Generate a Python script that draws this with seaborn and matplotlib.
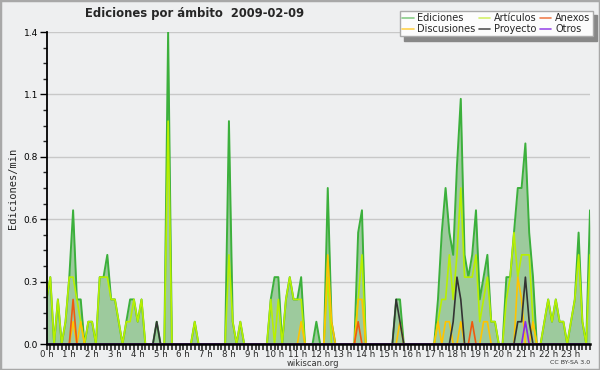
import numpy as np
import pandas as pd
import matplotlib
matplotlib.use('Agg')
import matplotlib.pyplot as plt
import seaborn as sns
from matplotlib.lines import Line2D
from matplotlib.patches import Rectangle
from matplotlib.ticker import MultipleLocator
from matplotlib import font_manager

sns.set_style("ticks")
plt.rcParams['font.family'] = ['DejaVu Sans']

# ediciones por tramo de 10 minutos, una fila por hora (0 h .. 23 h)
ediciones = [
    2, 3, 0, 2, 0, 1,
    3, 6, 2, 2, 0, 1,
    1, 0, 3, 3, 4, 2,
    2, 1, 0, 1, 2, 2,
    1, 2, 0, 0, 0, 1,
    0, 0, 14, 0, 0, 0,
    0, 0, 0, 1, 0, 0,
    0, 0, 0, 0, 0, 0,
    10, 1, 0, 1, 0, 0,
    0, 0, 0, 0, 0, 2,
    3, 3, 0, 2, 3, 2,
    2, 3, 0, 0, 0, 1,
    0, 0, 7, 1, 0, 0,
    0, 0, 0, 0, 5, 6,
    0, 0, 0, 0, 0, 0,
    0, 0, 2, 2, 0, 0,
    0, 0, 0, 0, 0, 0,
    0, 2, 5, 7, 5, 4,
    8, 11, 4, 3, 4, 6,
    2, 3, 4, 1, 1, 0,
    0, 3, 3, 5, 7, 7,
    9, 5, 3, 0, 0, 1,
    2, 1, 2, 1, 1, 0,
    1, 2, 5, 1, 0, 6,
]
articulos = [
    2, 3, 0, 2, 0, 1,
    3, 3, 2, 1, 0, 1,
    1, 0, 3, 3, 3, 2,
    2, 1, 0, 1, 1, 2,
    1, 2, 0, 0, 0, 0,
    0, 0, 10, 0, 0, 0,
    0, 0, 0, 1, 0, 0,
    0, 0, 0, 0, 0, 0,
    4, 1, 0, 1, 0, 0,
    0, 0, 0, 0, 0, 2,
    0, 2, 0, 2, 3, 2,
    2, 2, 0, 0, 0, 0,
    0, 0, 3, 0, 0, 0,
    0, 0, 0, 0, 2, 4,
    0, 0, 0, 0, 0, 0,
    0, 0, 0, 0, 0, 0,
    0, 0, 0, 0, 0, 0,
    0, 1, 2, 2, 4, 2,
    4, 7, 3, 3, 3, 4,
    1, 2, 3, 1, 1, 0,
    0, 2, 3, 5, 3, 4,
    4, 4, 1, 0, 0, 1,
    2, 1, 2, 1, 1, 0,
    1, 2, 4, 1, 0, 4,
]
# series dispersas: tramo -> ediciones
disc_tramos = [7, 9, 67, 74, 75, 82, 83, 93, 103, 105, 106, 109, 115, 116, 124, 125, 128]
disc_valores = [1, 1, 1, 4, 1, 2, 2, 1, 1, 1, 1, 1, 1, 1, 3, 2, 1]
anexos_tramos = [7, 82, 112]
anexos_valores = [2, 1, 1]
proy_tramos = [29, 92, 93, 107, 108, 109, 124, 125, 126, 127]
proy_valores = [1, 2, 1, 1, 3, 2, 1, 1, 3, 1]
otros_tramos = [126]
otros_valores = [1]

hour_labels = [f"{h} h" for h in range(24)]

n = len(ediciones)
horas = np.arange(n) / 6.0


def completa(tramos, valores):
    s = np.zeros(n)
    s[tramos] = valores
    return s


series = {
    'Ediciones': np.array(ediciones, float),
    'Artículos': np.array(articulos, float),
    'Discusiones': completa(disc_tramos, disc_valores),
    'Anexos': completa(anexos_tramos, anexos_valores),
    'Proyecto': completa(proy_tramos, proy_valores),
    'Otros': completa(otros_tramos, otros_valores),
}
colores = {
    'Ediciones': '#3cb03c',
    'Artículos': '#b8f000',
    'Discusiones': '#ffc400',
    'Anexos': '#f05a10',
    'Proyecto': '#333333',
    'Otros': '#8a2be2',
}

# ediciones por minuto
df = pd.DataFrame({k: v / 10.0 for k, v in series.items()})
df['hora'] = horas

bg = '#eeeff0'
fig = plt.figure(figsize=(6, 3.7), dpi=100, facecolor=bg)
ax = fig.add_axes([46.5 / 600, 26 / 370, (590 - 46.5) / 600, (344 - 32) / 370])
ax.set_facecolor(bg)

ax.fill_between(df['hora'], df['Ediciones'], color='#9dca9d', lw=0, zorder=1)
for nombre in ['Ediciones', 'Artículos', 'Discusiones', 'Anexos', 'Proyecto', 'Otros']:
    sns.lineplot(data=df, x='hora', y=nombre, ax=ax, color=colores[nombre],
                 linewidth=1.4 if nombre == 'Ediciones' else 1.2, zorder=2)

ax.set_xlim(0, horas[-1])
ax.set_ylim(0, 1.4)
yt = np.linspace(0, 1.4, 6)
ax.set_yticks(yt)
ax.set_yticklabels([f"{v:.1f}" for v in yt])
ax.yaxis.set_minor_locator(MultipleLocator(0.07))
ax.set_xticks(range(24))
ax.set_xticklabels(hour_labels)
ax.xaxis.set_minor_locator(MultipleLocator(1 / 6))
ax.grid(axis='y', color='#c8c8c8', lw=1)
ax.set_axisbelow(True)

ax.tick_params(axis='y', which='major', labelsize=6.5, colors='black', pad=1, length=5, width=1)
ax.tick_params(axis='y', which='minor', length=3, width=1)
ax.tick_params(axis='x', which='both', length=4, width=1.2, labelsize=6.2, pad=0.5)
for s in ['top', 'right']:
    ax.spines[s].set_visible(False)
ax.spines['left'].set_linewidth(1.3)
ax.spines['bottom'].set_linewidth(1.8)
ax.spines['left'].set_color('black')
ax.spines['bottom'].set_color('black')

ax.set_xlabel('')
ax.set_ylabel('Ediciones/min', family='DejaVu Sans Mono', fontsize=7.5, labelpad=4)

# titulo: version condensada si existe
condensada = any(f.name == 'DejaVu Sans' and f.stretch == 'condensed' and f.weight in ('bold', 700)
                 for f in font_manager.fontManager.ttflist)
if condensada:
    fig.text(85 / 600, 1 - 14 / 370, 'Ediciones por ámbito  2009-02-09', fontsize=9.3,
             fontweight='bold', fontstretch='condensed', ha='left', va='center')
else:
    fig.text(85 / 600, 1 - 14 / 370, 'Ediciones por ámbito  2009-02-09', fontsize=8.4,
             fontweight='bold', ha='left', va='center')
fig.text(313 / 600, 1 - 363 / 370, 'wikiscan.org', fontsize=6, ha='center', va='center', color='#333')
fig.text(570 / 600, 1 - 363 / 370, 'CC BY-SA 3.0', fontsize=4.5, ha='center', va='center', color='#333')

orden = ['Ediciones', 'Discusiones', 'Artículos', 'Proyecto', 'Anexos', 'Otros']
leg_col = {'Ediciones': '#88cc88', 'Artículos': '#d4f06a', 'Discusiones': '#ffd24d',
           'Anexos': '#f08050', 'Proyecto': '#555555', 'Otros': '#9a4de8'}
handles = [Line2D([], [], color=leg_col[k], lw=1.2) for k in orden]
fig.legend(handles, orden, ncol=3, loc='upper right', bbox_to_anchor=(593 / 600, 1 - 11 / 370),
           fontsize=7, frameon=True, fancybox=False, framealpha=1, facecolor='#fcfcfc',
           edgecolor='#aaaaaa', shadow={'color': '#888888', 'alpha': 1, 'ox': 3, 'oy': -3},
           handlelength=1.2, handletextpad=0.4, columnspacing=0.3, labelspacing=0.05,
           borderpad=0.25, borderaxespad=0)

fig.patches.append(Rectangle((0, 0), 1, 1, transform=fig.transFigure, fill=False,
                             edgecolor='#a8a8a8', lw=2.5))

fig.savefig('out.png', dpi=100, facecolor=bg)
